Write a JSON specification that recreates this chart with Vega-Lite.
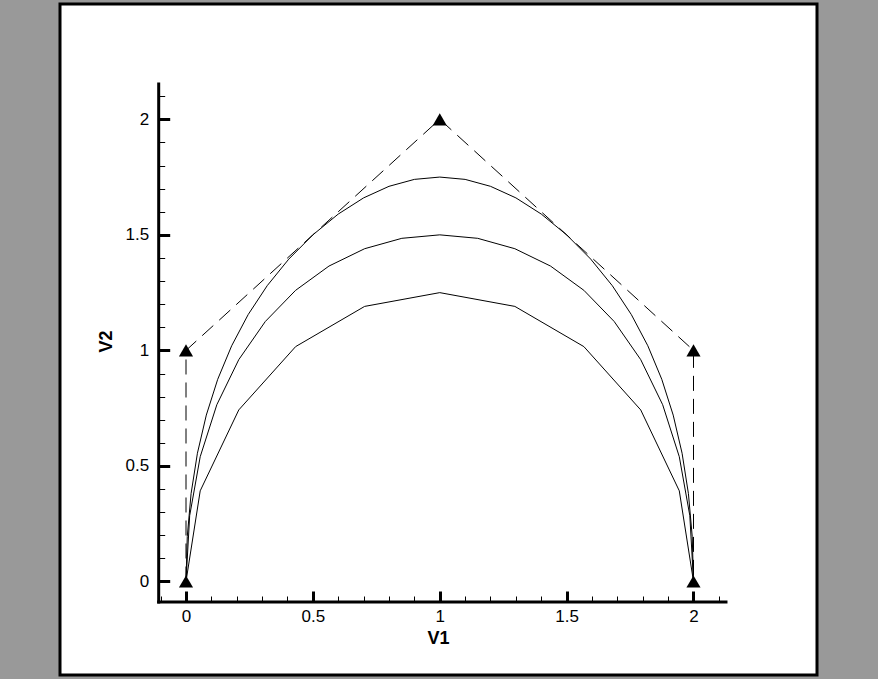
{
  "$schema": "https://vega.github.io/schema/vega-lite/v6.json",
  "width": 757,
  "height": 671,
  "autosize": "none",
  "padding": {"left": 60, "top": 4, "right": 61, "bottom": 4},
  "background": "#999999",
  "config": {
    "view": {"fill": "white", "stroke": "black", "strokeWidth": 3},
    "font": "Liberation Sans"
  },
  "datasets": {
    "axisLines": [
      {"x": -0.1076, "y": -0.0887, "x2": 2.128, "y2": -0.0887},
      {"x": -0.1076, "y": -0.0887, "x2": -0.1076, "y2": 2.153}
    ],
    "ctrl": [
      {"i": 0, "x": 0, "y": 0},
      {"i": 1, "x": 0, "y": 1},
      {"i": 2, "x": 1, "y": 2},
      {"i": 3, "x": 2, "y": 1},
      {"i": 4, "x": 2, "y": 0}
    ],
    "curves": [
      {"c": "order3", "i": 0, "x": 0, "y": 0},
      {"c": "order3", "i": 1, "x": 0.005, "y": 0.195},
      {"c": "order3", "i": 2, "x": 0.02, "y": 0.38},
      {"c": "order3", "i": 3, "x": 0.045, "y": 0.555},
      {"c": "order3", "i": 4, "x": 0.08, "y": 0.72},
      {"c": "order3", "i": 5, "x": 0.125, "y": 0.875},
      {"c": "order3", "i": 6, "x": 0.18, "y": 1.02},
      {"c": "order3", "i": 7, "x": 0.245, "y": 1.155},
      {"c": "order3", "i": 8, "x": 0.32, "y": 1.28},
      {"c": "order3", "i": 9, "x": 0.405, "y": 1.395},
      {"c": "order3", "i": 10, "x": 0.5, "y": 1.5},
      {"c": "order3", "i": 11, "x": 0.6, "y": 1.59},
      {"c": "order3", "i": 12, "x": 0.7, "y": 1.66},
      {"c": "order3", "i": 13, "x": 0.8, "y": 1.71},
      {"c": "order3", "i": 14, "x": 0.9, "y": 1.74},
      {"c": "order3", "i": 15, "x": 1.0, "y": 1.75},
      {"c": "order3", "i": 16, "x": 1.1, "y": 1.74},
      {"c": "order3", "i": 17, "x": 1.2, "y": 1.71},
      {"c": "order3", "i": 18, "x": 1.3, "y": 1.66},
      {"c": "order3", "i": 19, "x": 1.4, "y": 1.59},
      {"c": "order3", "i": 20, "x": 1.5, "y": 1.5},
      {"c": "order3", "i": 21, "x": 1.595, "y": 1.395},
      {"c": "order3", "i": 22, "x": 1.68, "y": 1.28},
      {"c": "order3", "i": 23, "x": 1.755, "y": 1.155},
      {"c": "order3", "i": 24, "x": 1.82, "y": 1.02},
      {"c": "order3", "i": 25, "x": 1.875, "y": 0.875},
      {"c": "order3", "i": 26, "x": 1.92, "y": 0.72},
      {"c": "order3", "i": 27, "x": 1.955, "y": 0.555},
      {"c": "order3", "i": 28, "x": 1.98, "y": 0.38},
      {"c": "order3", "i": 29, "x": 1.995, "y": 0.195},
      {"c": "order3", "i": 30, "x": 2, "y": 0},
      {"c": "order4", "i": 0, "x": 0, "y": 0},
      {"c": "order4", "i": 1, "x": 0.0145, "y": 0.285},
      {"c": "order4", "i": 2, "x": 0.056, "y": 0.54},
      {"c": "order4", "i": 3, "x": 0.1215, "y": 0.765},
      {"c": "order4", "i": 4, "x": 0.208, "y": 0.96},
      {"c": "order4", "i": 5, "x": 0.3125, "y": 1.125},
      {"c": "order4", "i": 6, "x": 0.432, "y": 1.26},
      {"c": "order4", "i": 7, "x": 0.5635, "y": 1.365},
      {"c": "order4", "i": 8, "x": 0.704, "y": 1.44},
      {"c": "order4", "i": 9, "x": 0.8505, "y": 1.485},
      {"c": "order4", "i": 10, "x": 1.0, "y": 1.5},
      {"c": "order4", "i": 11, "x": 1.1495, "y": 1.485},
      {"c": "order4", "i": 12, "x": 1.296, "y": 1.44},
      {"c": "order4", "i": 13, "x": 1.4365, "y": 1.365},
      {"c": "order4", "i": 14, "x": 1.568, "y": 1.26},
      {"c": "order4", "i": 15, "x": 1.6875, "y": 1.125},
      {"c": "order4", "i": 16, "x": 1.792, "y": 0.96},
      {"c": "order4", "i": 17, "x": 1.8785, "y": 0.765},
      {"c": "order4", "i": 18, "x": 1.944, "y": 0.54},
      {"c": "order4", "i": 19, "x": 1.9855, "y": 0.285},
      {"c": "order4", "i": 20, "x": 2, "y": 0},
      {"c": "order5", "i": 0, "x": 0, "y": 0},
      {"c": "order5", "i": 1, "x": 0.056, "y": 0.3924},
      {"c": "order5", "i": 2, "x": 0.208, "y": 0.7424},
      {"c": "order5", "i": 3, "x": 0.432, "y": 1.0164},
      {"c": "order5", "i": 4, "x": 0.704, "y": 1.1904},
      {"c": "order5", "i": 5, "x": 1.0, "y": 1.25},
      {"c": "order5", "i": 6, "x": 1.296, "y": 1.1904},
      {"c": "order5", "i": 7, "x": 1.568, "y": 1.0164},
      {"c": "order5", "i": 8, "x": 1.792, "y": 0.7424},
      {"c": "order5", "i": 9, "x": 1.944, "y": 0.3924},
      {"c": "order5", "i": 10, "x": 2, "y": 0}
    ]
  },
  "resolve": {"axis": {"x": "independent", "y": "independent"}},
  "layer": [
    {
      "data": {"name": "ctrl"},
      "mark": {"type": "line", "color": "black", "strokeWidth": 1, "strokeDash": [15, 8]},
      "encoding": {
        "order": {"field": "i", "type": "quantitative"},
        "x": {
          "field": "x", "type": "quantitative",
          "scale": {"domain": [-0.49655, 2.4867], "nice": false, "zero": false},
          "axis": {
            "orient": "bottom",
            "values": [-0.1, 0, 0.1, 0.2, 0.3, 0.4, 0.5, 0.6, 0.7, 0.8, 0.9, 1, 1.1, 1.2, 1.3, 1.4, 1.5, 1.6, 1.7, 1.8, 1.9, 2, 2.1],
            "offset": -73, "domain": false, "grid": false, "labels": false, "title": null,
            "tickSize": -6, "tickWidth": 1, "tickColor": "black"
          }
        },
        "y": {
          "field": "y", "type": "quantitative",
          "scale": {"domain": [-0.40459, 2.49892], "nice": false, "zero": false},
          "axis": {
            "orient": "left",
            "values": [0.1, 0.2, 0.3, 0.4, 0.5, 0.6, 0.7, 0.8, 0.9, 1, 1.1, 1.2, 1.3, 1.4, 1.5, 1.6, 1.7, 1.8, 1.9, 2, 2.1],
            "offset": -98.7, "domain": false, "grid": false, "labels": false, "title": null,
            "tickSize": -6, "tickWidth": 1, "tickColor": "black"
          }
        }
      }
    },
    {
      "data": {"name": "axisLines"},
      "mark": {"type": "rule", "color": "black", "strokeWidth": 3, "strokeCap": "square"},
      "encoding": {
        "x": {
          "field": "x", "type": "quantitative",
          "scale": {"domain": [-0.49655, 2.4867], "nice": false, "zero": false},
          "axis": {
            "orient": "bottom",
            "values": [0, 0.5, 1, 1.5, 2], "format": "~g",
            "offset": -73, "domain": false, "grid": false,
            "tickSize": -11, "tickWidth": 3, "tickColor": "black",
            "labelFont": "Liberation Sans", "labelFontSize": 17, "labelColor": "black",
            "labelPadding": 17, "labelFlush": false, "labelOverlap": false,
            "title": "V1", "titleFont": "Liberation Sans", "titleFontSize": 18, "titleFontWeight": "bold",
            "titleColor": "black", "titleX": 378, "titleY": 41, "titleBaseline": "alphabetic", "titleAlign": "center"
          }
        },
        "x2": {"field": "x2"},
        "y": {
          "field": "y", "type": "quantitative",
          "scale": {"domain": [-0.40459, 2.49892], "nice": false, "zero": false},
          "axis": {
            "orient": "left",
            "values": [0, 0.5, 1, 1.5, 2], "format": "~g",
            "offset": -98.7, "domain": false, "grid": false,
            "tickSize": -11, "tickWidth": 3, "tickColor": "black",
            "labelFont": "Liberation Sans", "labelFontSize": 17, "labelColor": "black",
            "labelPadding": 21, "labelFlush": false, "labelOverlap": false,
            "title": "V2", "titleFont": "Liberation Sans", "titleFontSize": 18, "titleFontWeight": "bold",
            "titleColor": "black", "titleX": -47, "titleY": 337, "titleBaseline": "alphabetic", "titleAngle": -90, "titleAlign": "center"
          }
        },
        "y2": {"field": "y2"}
      }
    },
    {
      "data": {"name": "curves"},
      "mark": {"type": "line", "color": "black", "strokeWidth": 1},
      "encoding": {
        "detail": {"field": "c", "type": "nominal"},
        "order": {"field": "i", "type": "quantitative"},
        "x": {"field": "x", "type": "quantitative", "scale": {"domain": [-0.49655, 2.4867], "nice": false, "zero": false}, "axis": null},
        "y": {"field": "y", "type": "quantitative", "scale": {"domain": [-0.40459, 2.49892], "nice": false, "zero": false}, "axis": null}
      }
    },
    {
      "data": {"name": "ctrl"},
      "mark": {"type": "point", "shape": "triangle-up", "filled": true, "color": "black", "opacity": 1, "size": 200},
      "encoding": {
        "x": {"field": "x", "type": "quantitative", "scale": {"domain": [-0.49655, 2.4867], "nice": false, "zero": false}, "axis": null},
        "y": {"field": "y", "type": "quantitative", "scale": {"domain": [-0.40459, 2.49892], "nice": false, "zero": false}, "axis": null}
      }
    }
  ]
}
